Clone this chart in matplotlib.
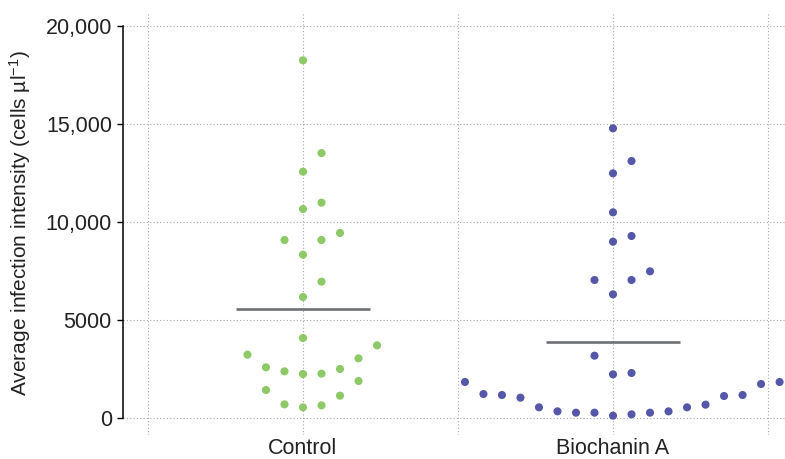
import matplotlib
matplotlib.use("Agg")
import matplotlib.pyplot as plt
import numpy as np

plt.rcParams['font.family'] = ['Liberation Sans', 'DejaVu Sans']
plt.rcParams['mathtext.fontset'] = 'custom'
plt.rcParams['mathtext.rm'] = 'Liberation Sans'
plt.rcParams['mathtext.it'] = 'Liberation Sans:italic'

# данные
groups = ["Control", "Biochanin A"]
control = [18250, 13520, 12570, 10985, 10663, 9439, 9082, 9082, 8333, 6956,
           6173, 4082, 3707, 3231, 3044, 2585, 2262, 2245, 2500, 2381,
           1888, 1429, 1139, 697, 544, 646]
biochanin = [14779, 13112, 12483, 10493, 9286, 8997, 7483, 7041, 7041, 6310,
             3180, 2228, 2296, 1735, 1173, 1173, 680, 544, 340, 272,
             272, 119, 187, 272, 340, 544, 1037, 1122, 1224, 1837, 1837]
means = [5545, 3861]
yticks = [0, 5000, 10000, 15000, 20000]
yticklabels = ["0", "5000", "10,000", "15,000", "20,000"]

colors = ["#8dc966", "#5557a9"]


def scatter_offsets(values, bin_width=2000, step=0.0597):
    # раскладка точек по рядам: центр, справа, слева, справа, ...
    values = np.asarray(values, dtype=float)
    offs = np.zeros(len(values))
    bins = (values // bin_width).astype(int)
    for b in np.unique(bins):
        idx = np.where(bins == b)[0]
        idx = idx[np.argsort(values[idx], kind="stable")]
        for k, i in enumerate(idx):
            if k == 0:
                offs[i] = 0
            elif k % 2 == 1:
                offs[i] = step * ((k + 1) // 2)
            else:
                offs[i] = -step * (k // 2)
    return offs


fig = plt.figure(figsize=(7.85, 4.59), dpi=100)
ax = fig.add_axes([0.1567, 0.0523, 0.8433, 0.9215])

for i, vals in enumerate([control, biochanin]):
    x = i + scatter_offsets(vals)
    ax.scatter(x, vals, s=34, color=colors[i], edgecolors='none', zorder=3)
    ax.hlines(means[i], i - 0.217, i + 0.217, color='#6d7074', lw=1.9, zorder=4)

ax.set_xlim(-0.5806, 1.5548)
ax.set_ylim(-867, 20714)

ax.set_xticks([0, 1])
ax.set_xticklabels(groups, fontsize=15.5, color='#222222')
ax.set_xticks([-0.5, 0.5, 1.5], minor=True)
ax.tick_params(axis='x', which='both', length=0, pad=2.5)

ax.set_yticks(yticks)
ax.set_yticklabels(yticklabels, fontsize=15.5, color='#222222')
ax.tick_params(axis='y', length=4, width=1, direction='out', pad=4)

ax.grid(True, axis='x', which='both', linestyle=(0, (1, 2)), color='#a8a8a8', lw=0.8)
ax.grid(True, axis='y', which='major', linestyle=(0, (1, 2)), color='#a8a8a8', lw=0.8)
ax.set_axisbelow(True)

for s in ['top', 'right', 'bottom']:
    ax.spines[s].set_visible(False)
ax.spines['left'].set_bounds(0, 20000)
ax.spines['left'].set_linewidth(1.1)

ax.set_ylabel("Average infection intensity (cells µl$^{-1}$)", fontsize=15, color='#222222', labelpad=9)

fig.savefig("out.png", dpi=100)
